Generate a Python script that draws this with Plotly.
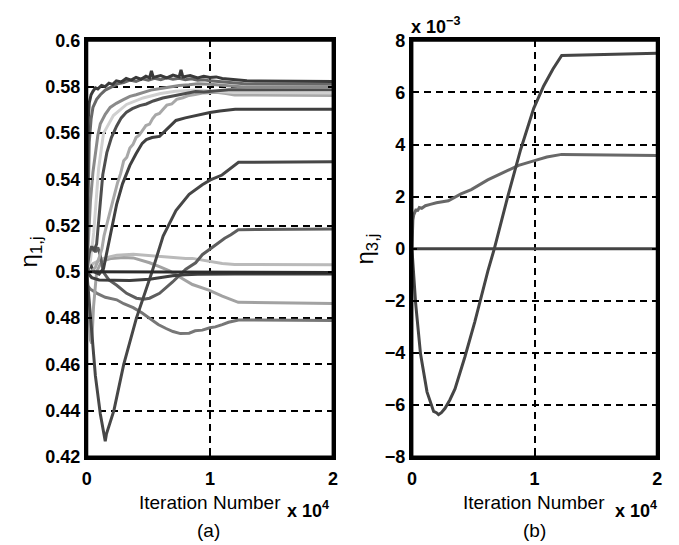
import plotly.graph_objects as go

# ---------------- panel (a): eta_{1,j} ----------------
a1_x = [0, 50, 120, 200, 350, 500, 700, 900, 1200, 1500, 1800, 2100, 2400, 2800, 3200, 3600, 4000, 4400, 4800,
        5100, 5250, 5400, 6000, 6500, 7000, 7500, 7650, 7800, 8400, 9000, 9500, 10000, 10500, 11000, 11500,
        12000, 13000, 14000, 16000, 20000]
a1_y = [0.500, 0.545, 0.566, 0.573, 0.5765, 0.5780, 0.5795, 0.5790, 0.5805, 0.5800, 0.5815, 0.5810, 0.5825,
        0.5820, 0.5835, 0.5828, 0.5840, 0.5832, 0.5845, 0.5838, 0.5868, 0.5840, 0.5848, 0.5838, 0.5850, 0.5842,
        0.5872, 0.5842, 0.5848, 0.5838, 0.5845, 0.5840, 0.5842, 0.5835, 0.5832, 0.5828, 0.5825, 0.5824,
        0.5823, 0.5822]

a2_x = [0, 80, 200, 350, 500, 800, 1100, 1500, 2000, 2500, 3000, 3500, 4000, 4500, 5000, 5500, 6000, 6500,
        7000, 7500, 8000, 8500, 9000, 9500, 10000, 11000, 12000, 13000, 20000]
a2_y = [0.500, 0.530, 0.556, 0.566, 0.571, 0.5745, 0.5765, 0.5785, 0.5800, 0.5812, 0.5818, 0.5828, 0.5822,
        0.5834, 0.5828, 0.5836, 0.5830, 0.5838, 0.5832, 0.5836, 0.5830, 0.5834, 0.5828, 0.5830, 0.5825,
        0.5820, 0.5815, 0.5811, 0.5810]

a3_x = [0, 100, 300, 500, 700, 900, 1100, 1500, 1900, 2400, 2970, 3500, 4000, 4570, 5200, 6000, 6800, 7500,
        8300, 9000, 10000, 11000, 12000, 13000, 20000]
a3_y = [0.500, 0.512, 0.5307, 0.543, 0.5515, 0.559, 0.564, 0.568, 0.571, 0.5728, 0.5744, 0.5758, 0.5765,
        0.5775, 0.5785, 0.5792, 0.5800, 0.5805, 0.5808, 0.5812, 0.5810, 0.5806, 0.5800, 0.5797, 0.5796]

a4_x = [0, 200, 400, 600, 800, 1000, 1100, 1300, 1630, 2000, 2430, 2800, 3230, 3700, 4300, 4834, 5400, 6170,
        6800, 7510, 8200, 8840, 9500, 10180, 11000, 11520, 12500, 20000]
a4_y = [0.500, 0.508, 0.511, 0.509, 0.512, 0.522, 0.530, 0.542, 0.5515, 0.558, 0.563, 0.5665, 0.5690, 0.5705,
        0.5718, 0.5725, 0.5738, 0.5751, 0.5758, 0.5765, 0.5772, 0.5779, 0.5777, 0.5780, 0.5784, 0.5786,
        0.5786, 0.5786]

a5_x = [0, 300, 560, 960, 1360, 2160, 3230, 4570, 6000, 7200, 9000, 10500, 12000, 20000]
a5_y = [0.500, 0.505, 0.5168, 0.5446, 0.5598, 0.5675, 0.5723, 0.5751, 0.5770, 0.5780, 0.5785, 0.5780,
        0.5775, 0.5772]

a6_x = [0, 400, 700, 1000, 1230, 1400, 1700, 2000, 2250, 2500, 2750, 3000, 3250, 3500, 3750, 4000, 4250,
        4500, 4800, 5100, 5350, 5600, 5900, 6200, 6500, 6900, 7300, 7800, 8300, 8800, 9400, 10000, 10500,
        11300, 12000, 20000]
a6_y = [0.500, 0.500, 0.502, 0.506, 0.510, 0.5155, 0.5220, 0.5285, 0.5330, 0.5385, 0.5425, 0.5480, 0.5495,
        0.5535, 0.5550, 0.5580, 0.5590, 0.5610, 0.5632, 0.5638, 0.5662, 0.5678, 0.5684, 0.5702, 0.5720,
        0.5725, 0.5745, 0.5752, 0.5762, 0.5766, 0.5772, 0.5774, 0.5776, 0.5770, 0.5764, 0.5762]

a7_x = [0, 300, 600, 1000, 1363, 1700, 2000, 2430, 2900, 3500, 4000, 4500, 4834, 5300, 5908, 6300, 6800,
        7240, 8000, 8600, 9380, 10000, 10800, 11500, 12050, 20000]
a7_y = [0.500, 0.503, 0.500, 0.499, 0.5015, 0.510, 0.518, 0.5293, 0.538, 0.546, 0.551, 0.5555, 0.5571,
        0.5580, 0.5585, 0.5605, 0.5630, 0.5654, 0.5665, 0.5672, 0.5682, 0.5688, 0.5695, 0.5698, 0.5702,
        0.5702]

a8_x = [0, 300, 700, 1100, 1400, 1500, 1600, 2200, 3000, 4030, 5300, 6200, 7240, 8310, 9380, 10040, 10980,
        11780, 12320, 20000]
a8_y = [0.500, 0.480, 0.455, 0.4386, 0.4290, 0.4268, 0.4300, 0.4400, 0.4600, 0.4800, 0.5000, 0.5154,
        0.5265, 0.5335, 0.5376, 0.5397, 0.5418, 0.5453, 0.5473, 0.5475]

a9_x = [0, 150, 300, 500, 700, 900, 1100, 1360, 1800, 2430, 3230, 4030, 4600, 5100, 5910, 6970, 8040, 8840,
        9380, 9910, 10200, 10700, 11200, 11700, 12300, 20000]
a9_y = [0.500, 0.506, 0.5095, 0.511, 0.5085, 0.5105, 0.507, 0.4997, 0.4965, 0.4942, 0.4907, 0.4886, 0.4882,
        0.4886, 0.4907, 0.4956, 0.5011, 0.5039, 0.5074, 0.5095, 0.5108, 0.5125, 0.5145, 0.5160, 0.5182,
        0.5185]

a10_x = [0, 500, 1360, 2430, 3770, 5370, 6440, 8040, 8580, 9910, 11000, 12000, 20000]
a10_y = [0.500, 0.5035, 0.5058, 0.5072, 0.5076, 0.5068, 0.5065, 0.5057, 0.5058, 0.5046, 0.5036, 0.5032,
         0.5030]

a11_x = [0, 20000]
a11_y = [0.5000, 0.4997]

a12_x = [0, 400, 1000, 2430, 3500, 5100, 6000, 6970, 8000, 9000, 12000, 20000]
a12_y = [0.500, 0.4975, 0.4965, 0.4965, 0.4962, 0.4968, 0.4975, 0.4983, 0.4987, 0.4989, 0.4990, 0.4990]

a13_x = [0, 150, 300, 400, 550, 800, 1200, 2000, 3000, 3770, 4500, 5100, 6000, 6710, 7780, 8580, 9910,
         11000, 12300, 20000]
a13_y = [0.500, 0.485, 0.4705, 0.469, 0.485, 0.500, 0.5045, 0.5058, 0.5062, 0.5060, 0.5050, 0.5039, 0.5020,
         0.5004, 0.4970, 0.4945, 0.4921, 0.4895, 0.4868, 0.4863]

a14_x = [0, 30, 300, 830, 1500, 2430, 3000, 3770, 4500, 5100, 5800, 6440, 7000, 7600, 8310, 8800, 9380,
         10000, 10440, 11000, 11510, 12320, 20000]
a14_y = [0.500, 0.4942, 0.4925, 0.4907, 0.4890, 0.4879, 0.4862, 0.4845, 0.4822, 0.4798, 0.4772, 0.4755,
         0.4742, 0.4733, 0.4735, 0.4745, 0.4748, 0.4758, 0.4762, 0.4772, 0.4782, 0.4792, 0.4790]

# ---------------- panel (b): eta_{3,j} ----------------
b1_x = [0, 80, 300, 700, 1230, 1770, 2000, 2170, 2400, 2700, 3100, 3510, 4310, 5120, 5650, 6190, 6720, 7790,
        8860, 9930, 10740, 11500, 12210, 20000]
b1_y = [0.0, -0.5e-3, -2.08e-3, -4.04e-3, -5.5e-3, -6.25e-3, -6.30e-3, -6.37e-3, -6.30e-3, -6.13e-3,
        -5.8e-3, -5.39e-3, -4.17e-3, -2.82e-3, -1.84e-3, -0.86e-3, 0.0, 1.96e-3, 3.8e-3, 5.39e-3, 6.25e-3,
        6.9e-3, 7.42e-3, 7.5e-3]

b2_x = [0, 40, 80, 150, 250, 350, 450, 600, 800, 1100, 1500, 2000, 2970, 4000, 4840, 5500, 6180, 7520, 8700,
        9930, 11000, 12210, 20000]
b2_y = [0.0, 0.6e-3, 1.1e-3, 1.30e-3, 1.42e-3, 1.52e-3, 1.44e-3, 1.58e-3, 1.55e-3, 1.65e-3, 1.70e-3,
        1.76e-3, 1.84e-3, 2.10e-3, 2.27e-3, 2.45e-3, 2.64e-3, 2.94e-3, 3.20e-3, 3.37e-3, 3.52e-3, 3.62e-3,
        3.58e-3]

b3_x = [0, 20000]
b3_y = [0.0, 0.0]

x_ticks = [0, 10000, 20000]
x_ticktext = ["0", "1", "2"]
ya_ticks = [0.42, 0.44, 0.46, 0.48, 0.50, 0.52, 0.54, 0.56, 0.58, 0.60]
ya_ticktext = ["0.42", "0.44", "0.46", "0.48", "0.5", "0.52", "0.54", "0.56", "0.58", "0.6"]
yb_ticks = [-8e-3, -6e-3, -4e-3, -2e-3, 0, 2e-3, 4e-3, 6e-3, 8e-3]
yb_ticktext = ["\u22128", "\u22126", "\u22124", "\u22122", "0", "2", "4", "6", "8"]


def bold(labels):
    return ["<b>%s</b>" % s for s in labels]


W, H = 679, 545
FONT = "Liberation Sans, Arial, sans-serif"

fig = go.Figure()

panel_a = [
    (a14_x, a14_y, "#777777"),
    (a13_x, a13_y, "#a2a2a2"),
    (a10_x, a10_y, "#bababa"),
    (a9_x, a9_y, "#5e5e5e"),
    (a8_x, a8_y, "#474747"),
    (a7_x, a7_y, "#404040"),
    (a6_x, a6_y, "#a8a8a8"),
    (a5_x, a5_y, "#d0d0d0"),
    (a4_x, a4_y, "#4e4e4e"),
    (a3_x, a3_y, "#8a8a8a"),
    (a2_x, a2_y, "#686868"),
    (a1_x, a1_y, "#3a3a3a"),
    (a12_x, a12_y, "#3e3e3e"),
    (a11_x, a11_y, "#2c2c2c"),
]
for xs, ys, col in panel_a:
    fig.add_trace(go.Scatter(x=xs, y=ys, mode="lines", line=dict(color=col, width=3),
                             xaxis="x", yaxis="y", showlegend=False, hoverinfo="skip"))

panel_b = [
    (b3_x, b3_y, "#444444"),
    (b2_x, b2_y, "#686868"),
    (b1_x, b1_y, "#454545"),
]
for xs, ys, col in panel_b:
    fig.add_trace(go.Scatter(x=xs, y=ys, mode="lines", line=dict(color=col, width=3),
                             xaxis="x2", yaxis="y2", showlegend=False, hoverinfo="skip"))

axis_common = dict(
    showline=True, linecolor="black", linewidth=3, mirror="ticks",
    ticks="inside", ticklen=5, tickwidth=2, tickcolor="black",
    showgrid=True, gridcolor="black", gridwidth=2, griddash="7px,5px",
    zeroline=False,
    tickfont=dict(family=FONT, size=18, color="black"),
)

xa_dom = [83 / W, 333 / W]
xb_dom = [413 / W, 662 / W]
y_dom = [1 - 464 / H, 1 - 31.5 / H]

fig.update_layout(
    width=W, height=H,
    margin=dict(l=0, r=0, t=0, b=0),
    paper_bgcolor="white", plot_bgcolor="white",
    xaxis=dict(domain=xa_dom, range=[0, 20000], tickvals=x_ticks, ticktext=bold(x_ticktext),
               anchor="y", ticklabelstandoff=3, **axis_common),
    yaxis=dict(domain=y_dom, range=[0.42, 0.60], tickvals=ya_ticks, ticktext=bold(ya_ticktext),
               anchor="x", **axis_common),
    xaxis2=dict(domain=xb_dom, range=[0, 20000], tickvals=x_ticks, ticktext=bold(x_ticktext),
                anchor="y2", ticklabelstandoff=3, **axis_common),
    yaxis2=dict(domain=y_dom, range=[-8e-3, 8e-3], tickvals=yb_ticks, ticktext=bold(yb_ticktext),
                anchor="x2", **axis_common),
)

# solid box around each panel
for xr, yr in (("x domain", "y domain"), ("x2 domain", "y2 domain")):
    fig.add_shape(type="rect", xref=xr, yref=yr, x0=0, x1=1, y0=0, y1=1,
                  line=dict(color="black", width=3), layer="above")


def px_x(p):
    return p / W


def px_y(p):
    return 1 - p / H


ann = []
for cx in (208, 537):
    ann.append(dict(text="Iteration Number", x=px_x(cx), y=px_y(511), xref="paper", yref="paper",
                    xanchor="center", yanchor="middle", showarrow=False,
                    font=dict(family=FONT, size=19, color="black")))
for rx in (331, 664):
    ann.append(dict(text="<b>x 10<sup>4</sup></b>", x=px_x(rx), y=px_y(533), xref="paper", yref="paper",
                    xanchor="right", yanchor="bottom", showarrow=False,
                    font=dict(family=FONT, size=18, color="black")))
ann.append(dict(text="(a)", x=px_x(207), y=px_y(540), xref="paper", yref="paper",
                xanchor="center", yanchor="middle", showarrow=False,
                font=dict(family=FONT, size=19, color="black")))
ann.append(dict(text="(b)", x=px_x(537), y=px_y(540), xref="paper", yref="paper",
                xanchor="center", yanchor="middle", showarrow=False,
                font=dict(family=FONT, size=19, color="black")))
ann.append(dict(text="<b>x 10<sup>\u22123</sup></b>", x=px_x(410), y=px_y(30), xref="paper", yref="paper",
                xanchor="left", yanchor="bottom", showarrow=False,
                font=dict(family=FONT, size=18, color="black")))
ann.append(dict(text="\u03b7<sub>1,j</sub>", x=px_x(26), y=px_y(251), xref="paper", yref="paper",
                xanchor="center", yanchor="middle", showarrow=False, textangle=-90,
                font=dict(family=FONT, size=24, color="black")))
ann.append(dict(text="\u03b7<sub>3,j</sub>", x=px_x(367), y=px_y(248), xref="paper", yref="paper",
                xanchor="center", yanchor="middle", showarrow=False, textangle=-90,
                font=dict(family=FONT, size=24, color="black")))
fig.update_layout(annotations=ann)

fig.write_html("out.html")
